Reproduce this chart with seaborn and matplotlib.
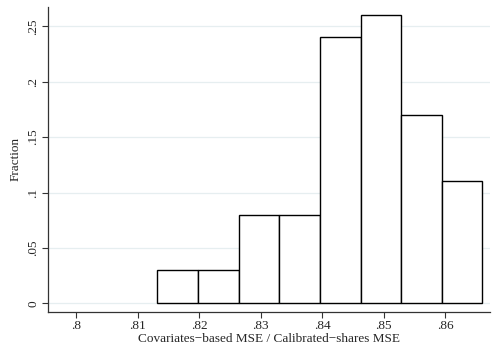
import matplotlib
matplotlib.use("Agg")
import matplotlib.pyplot as plt
import seaborn as sns
import numpy as np

# Histogram of the MSE ratio: bin edges and the fraction of observations per bin
bin_edges = [0.8132, 0.81985, 0.82645, 0.83305, 0.83965, 0.84625, 0.85285, 0.85945, 0.86605]
fractions = [0.03, 0.03, 0.08, 0.08, 0.24, 0.26, 0.17, 0.11]
x_ticks = [0.80, 0.81, 0.82, 0.83, 0.84, 0.85, 0.86]
x_tick_labels = [".8", ".81", ".82", ".83", ".84", ".85", ".86"]
y_ticks = [0, 0.05, 0.10, 0.15, 0.20, 0.25]
y_tick_labels = ["0", ".05", ".1", ".15", ".2", ".25"]

sns.set_style("white")
plt.rcParams["font.family"] = ["Liberation Serif", "DejaVu Serif"]

centers = [(a + b) / 2 for a, b in zip(bin_edges[:-1], bin_edges[1:])]

fig = plt.figure(figsize=(4.92, 3.45), dpi=100)
ax = fig.add_axes([0.097, 0.0965, 0.899, 0.883])

for yt in y_ticks:
    ax.axhline(yt, color="#e6eef0", lw=0.9, zorder=0)

sns.histplot(x=centers, weights=fractions, bins=bin_edges, stat="count",
             color="white", edgecolor="black", linewidth=1.0, alpha=1.0, ax=ax, zorder=2)

ax.set_xlim(0.7954, 0.8673)
ax.set_ylim(-0.0076, 0.2674)
ax.set_xticks(x_ticks)
ax.set_xticklabels(x_tick_labels, fontsize=9.5)
ax.set_yticks(y_ticks)
ax.set_yticklabels(y_tick_labels, fontsize=9.5, rotation=90, va="center")
ax.set_xlabel("Covariates\u2212based MSE / Calibrated\u2212shares MSE", fontsize=9.5, labelpad=1)
ax.set_ylabel("Fraction", fontsize=9.5, labelpad=4)

for side in ["top", "right"]:
    ax.spines[side].set_visible(False)
for side in ["left", "bottom"]:
    ax.spines[side].set_color("#333333")
    ax.spines[side].set_linewidth(0.9)
ax.tick_params(axis="both", direction="out", length=4, width=0.8, color="#333333",
               bottom=True, left=True, pad=2)
ax.grid(False)

fig.savefig("out.png", dpi=100)
